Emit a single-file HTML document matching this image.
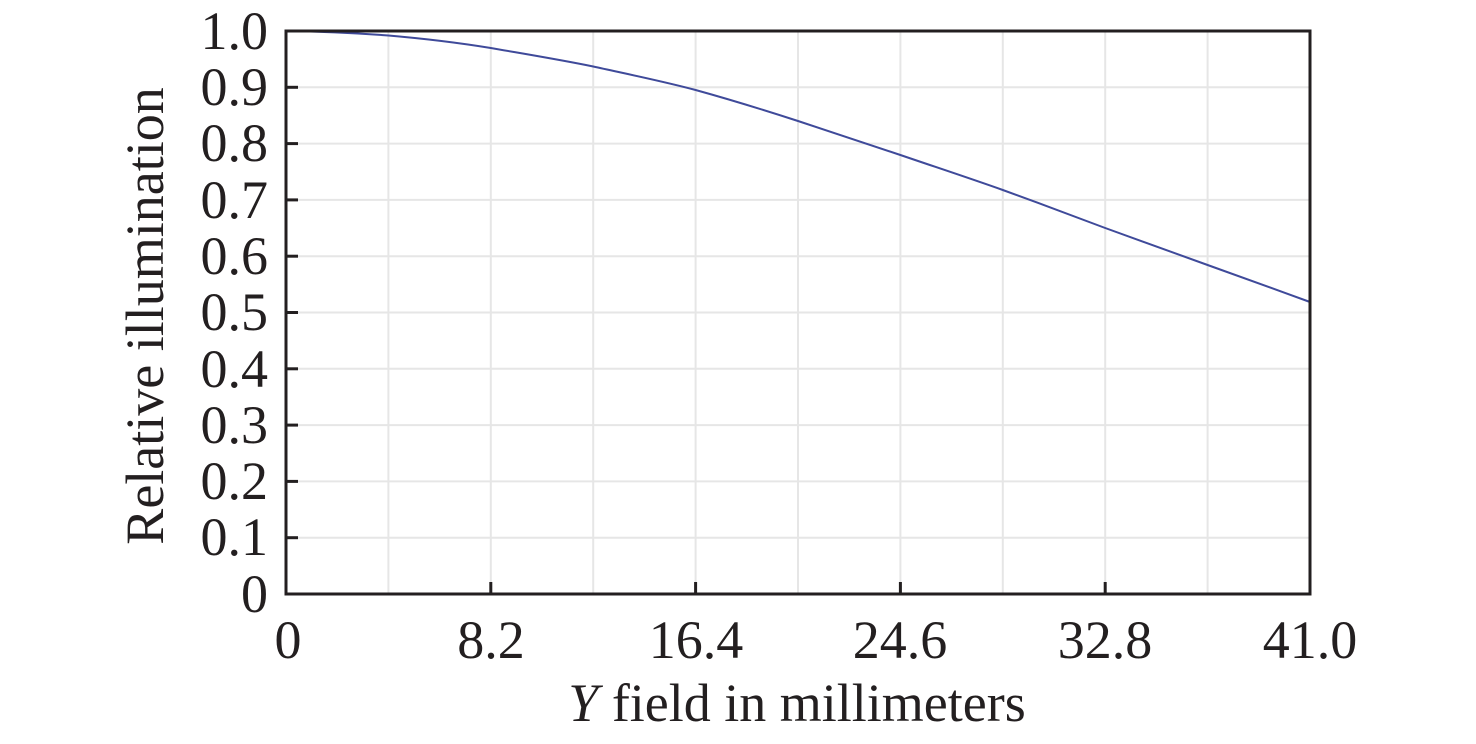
<!DOCTYPE html>
<html><head><style>html,body{margin:0;padding:0;background:#fff}</style></head><body>
<svg width="1476" height="739" viewBox="0 0 1476 739" xmlns="http://www.w3.org/2000/svg" font-family="Liberation Serif, serif" fill="#231f20">
<g stroke="#e6e6e6" stroke-width="2">
<line x1="388.4" y1="31" x2="388.4" y2="594"/><line x1="490.8" y1="31" x2="490.8" y2="594"/><line x1="593.2" y1="31" x2="593.2" y2="594"/><line x1="695.6" y1="31" x2="695.6" y2="594"/><line x1="798" y1="31" x2="798" y2="594"/><line x1="900.4" y1="31" x2="900.4" y2="594"/><line x1="1002.8" y1="31" x2="1002.8" y2="594"/><line x1="1105.2" y1="31" x2="1105.2" y2="594"/><line x1="1207.6" y1="31" x2="1207.6" y2="594"/>
<line x1="286" y1="87.3" x2="1310" y2="87.3"/><line x1="286" y1="143.6" x2="1310" y2="143.6"/><line x1="286" y1="199.9" x2="1310" y2="199.9"/><line x1="286" y1="256.2" x2="1310" y2="256.2"/><line x1="286" y1="312.5" x2="1310" y2="312.5"/><line x1="286" y1="368.8" x2="1310" y2="368.8"/><line x1="286" y1="425.1" x2="1310" y2="425.1"/><line x1="286" y1="481.4" x2="1310" y2="481.4"/><line x1="286" y1="537.7" x2="1310" y2="537.7"/>
</g>
<path d="M286,31 C320,31.5 355,33 388.4,35.5 C423,38.5 457,42.5 490.8,48 C525,54 559,59.5 593.2,66.5 C627,74 662,81 695.6,90 C730,99.5 764,110 798,121 C832,132 866,143.5 900.4,155 C934,166.5 969,178 1002.8,190 C1037,202.5 1071,215 1105.2,228 C1139,240.5 1173,252.5 1207.6,265 C1242,277.5 1276,289.5 1310,302" fill="none" stroke="#3f4a9a" stroke-width="2"/>
<g stroke="#231f20" stroke-width="3">
<line x1="286" y1="87.3" x2="298" y2="87.3"/><line x1="286" y1="143.6" x2="298" y2="143.6"/><line x1="286" y1="199.9" x2="298" y2="199.9"/><line x1="286" y1="256.2" x2="298" y2="256.2"/><line x1="286" y1="312.5" x2="298" y2="312.5"/><line x1="286" y1="368.8" x2="298" y2="368.8"/><line x1="286" y1="425.1" x2="298" y2="425.1"/><line x1="286" y1="481.4" x2="298" y2="481.4"/><line x1="286" y1="537.7" x2="298" y2="537.7"/>
<line x1="490.8" y1="594" x2="490.8" y2="582"/><line x1="695.6" y1="594" x2="695.6" y2="582"/><line x1="900.4" y1="594" x2="900.4" y2="582"/><line x1="1105.2" y1="594" x2="1105.2" y2="582"/>
<rect x="286" y="31" width="1024" height="563" fill="none"/>
</g>
<g font-size="54" text-anchor="end">
<text x="268" y="49">1.0</text><text x="268" y="105">0.9</text><text x="268" y="161">0.8</text><text x="268" y="218">0.7</text><text x="268" y="274">0.6</text><text x="268" y="330">0.5</text><text x="268" y="387">0.4</text><text x="268" y="443">0.3</text><text x="268" y="499">0.2</text><text x="268" y="555">0.1</text><text x="268" y="612">0</text>
</g>
<g font-size="54" text-anchor="middle">
<text x="288" y="658">0</text><text x="491" y="658">8.2</text><text x="696" y="658">16.4</text><text x="900" y="658">24.6</text><text x="1105" y="658">32.8</text><text x="1310" y="658">41.0</text>
<text x="797" y="721"><tspan font-style="italic">Y</tspan> field in millimeters</text>
<text transform="translate(163,316) rotate(-90)">Relative illumination</text>
</g>
</svg>
</body></html>
